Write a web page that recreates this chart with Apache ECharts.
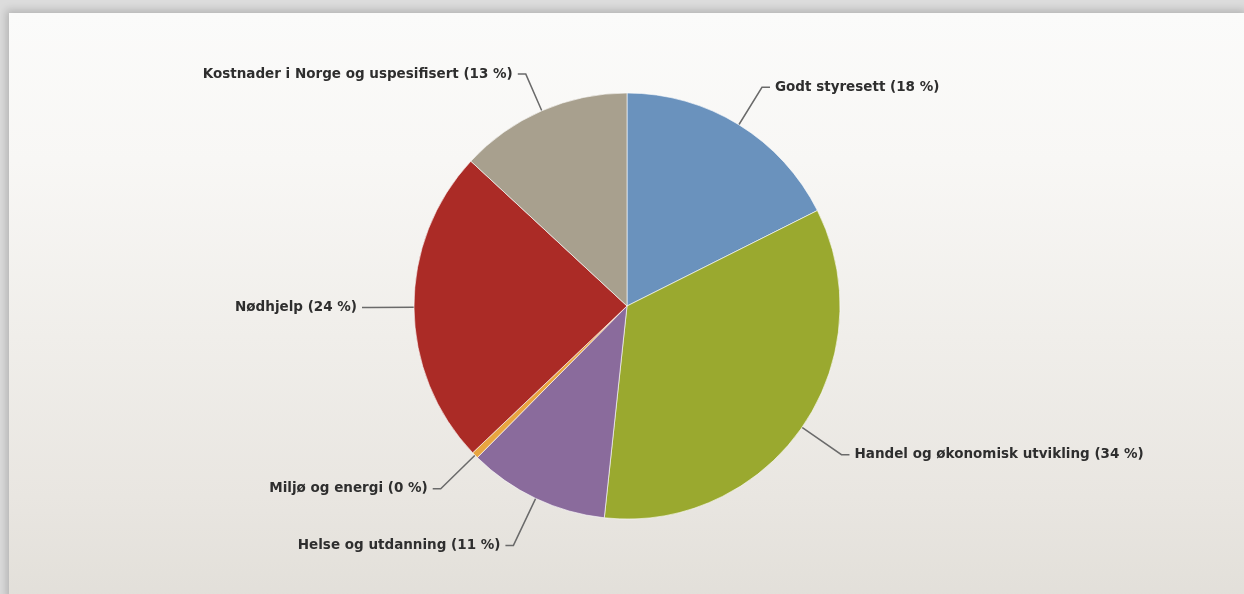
<!DOCTYPE html>
<html>
<head>
<meta charset="utf-8">
<script src="https://cdn.jsdelivr.net/npm/echarts@6/dist/echarts.min.js"></script>
<style>
  html, body { margin:0; padding:0; width:1244px; height:594px; overflow:hidden; background:#dcdcdc; }
  #panel { position:absolute; left:9px; top:13px; width:1240px; height:590px;
    background: linear-gradient(to bottom, #fbfbfa 0%, #f8f7f5 25%, #f0eeea 55%, #e9e6e1 82%, #e2dfd9 100%);
    box-shadow: -3px -3px 8px rgba(0,0,0,0.18); }
  #chart { position:absolute; left:0; top:0; width:1244px; height:594px; }
</style>
</head>
<body>
<div id="panel"></div>
<div id="chart"></div>
<script>
const categories = ['Godt styresett', 'Handel og økonomisk utvikling', 'Helse og utdanning', 'Miljø og energi', 'Nødhjelp', 'Kostnader i Norge og uspesifisert'];
const values = [17.6, 34.1, 10.7, 0.5, 24.0, 13.1];
const shownPercent = [18, 34, 11, 0, 24, 13];
const colors = ['#6a92bd', '#9aa92f', '#8a6b9c', '#e8a540', '#ab2b26', '#a8a08e'];

// label line lengths per slice (style only)
const lineLen = { 'Godt styresett': 44, 'Handel og økonomisk utvikling': 48, 'Helse og utdanning': 52, 'Miljø og energi': 48, 'Nødhjelp': 44, 'Kostnader i Norge og uspesifisert': 40 };

const chart = echarts.init(document.getElementById('chart'), null, { renderer: 'canvas' });
chart.setOption({
  backgroundColor: 'transparent',
  animation: false,
  series: [{
    type: 'pie',
    center: [627, 306],
    radius: 213,
    startAngle: 90,
    clockwise: true,
    avoidLabelOverlap: true,
    data: categories.map((c, i) => ({
      name: c, value: values[i],
      itemStyle: { color: colors[i] },
      labelLine: { length: lineLen[c] }
    })),
    itemStyle: { borderColor: 'rgba(255,255,255,0.6)', borderWidth: 1 },
    label: {
      show: true,
      formatter: p => p.name + ' (' + shownPercent[p.dataIndex] + ' %)',
      color: '#2e2e2e',
      fontFamily: 'DejaVu Sans',
      fontWeight: 'bold',
      fontSize: 13.5,
      distanceToLabelLine: 5
    },
    labelLine: {
      show: true,
      length: 44,
      length2: 8,
      lineStyle: { color: '#6a6a6a', width: 1.5 }
    },
    emphasis: { disabled: true }
  }]
});
</script>
</body>
</html>
